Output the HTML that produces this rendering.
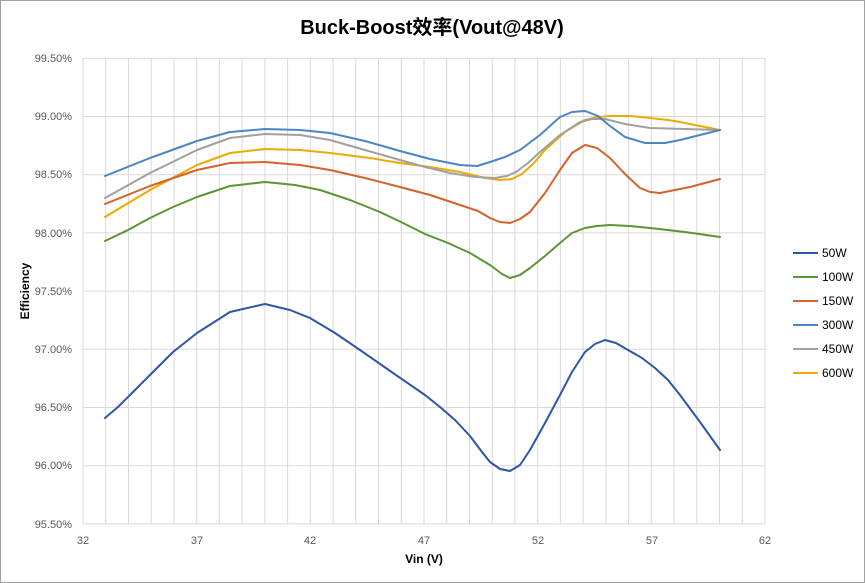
<!DOCTYPE html>
<html><head><meta charset="utf-8"><style>
body{margin:0;background:#fff}
svg{display:block;font-family:"Liberation Sans","Noto Sans CJK SC",sans-serif}
</style></head><body>
<svg width="865" height="583" viewBox="0 0 865 583" xmlns="http://www.w3.org/2000/svg">
<rect x="0.5" y="0.5" width="864" height="582" fill="#fff" stroke="#a0a0a0"/>
<text x="432" y="34" text-anchor="middle" font-size="20" font-weight="bold" fill="#000">Buck-Boost效率(Vout@48V)</text>
<path stroke="#d9d9d9" stroke-width="1" fill="none" d="M83,58V524M105.7,58V524M128.5,58V524M151.2,58V524M173.9,58V524M196.7,58V524M219.4,58V524M242.1,58V524M264.9,58V524M287.6,58V524M310.3,58V524M333.1,58V524M355.8,58V524M378.5,58V524M401.3,58V524M424,58V524M446.7,58V524M469.5,58V524M492.2,58V524M514.9,58V524M537.7,58V524M560.4,58V524M583.1,58V524M605.9,58V524M628.6,58V524M651.3,58V524M674.1,58V524M696.8,58V524M719.5,58V524M742.3,58V524M765,58V524M83,58.3H765M83,116.5H765M83,174.7H765M83,232.9H765M83,291.1H765M83,349.3H765M83,407.5H765M83,465.7H765M83,523.9H765"/>
<g font-size="11" fill="#595959" text-anchor="end">
<text x="72" y="62">99.50%</text><text x="72" y="120">99.00%</text><text x="72" y="178">98.50%</text>
<text x="72" y="237">98.00%</text><text x="72" y="295">97.50%</text><text x="72" y="353">97.00%</text>
<text x="72" y="411">96.50%</text><text x="72" y="469">96.00%</text><text x="72" y="528">95.50%</text>
</g>
<g font-size="11" fill="#595959" text-anchor="middle">
<text x="83" y="544">32</text><text x="197" y="544">37</text><text x="310" y="544">42</text>
<text x="424" y="544">47</text><text x="538" y="544">52</text><text x="652" y="544">57</text><text x="765" y="544">62</text>
</g>
<text x="424" y="563" text-anchor="middle" font-size="12" font-weight="bold">Vin (V)</text>
<text transform="translate(29,291) rotate(-90)" text-anchor="middle" font-size="12" font-weight="bold">Efficiency</text>
<g fill="none" stroke-width="2" stroke-linejoin="round" stroke-linecap="round">
<polyline stroke="#eeaa00" points="105,217 150,190 197,165 230,153 265,149 300,150 330,153 370,158 400,163 430,167 460,172 485,178 500,180 512,179 522,174 534,163 545,150 565,132 585,120 598,117 610,116 630,116 650,118 668,120 680,122 700,126 720,130"/>
<polyline stroke="#a0a0a0" points="105,198 150,173 197,150 230,138 265,134 300,135 330,140 365,150 400,160 425,167 450,173 475,177 495,178 507,176 516,172 528,163 540,152 560,135 580,122 592,119 605,119 625,124 650,128 685,129 720,130"/>
<polyline stroke="#4a86c5" points="105,176 150,158 197,141 230,132 265,129 300,130 330,133 365,141 400,151 430,159 460,165 477,166 490,162 505,157 520,150 540,135 560,117 572,112 585,111 598,116 610,126 625,137 645,143 665,143 680,140 700,135 720,130"/>
<polyline stroke="#d4622a" points="105,204 150,186 197,170 230,163 265,162 300,165 330,170 365,178 400,187 430,195 460,205 478,211 490,218 500,222 510,223 520,219 530,212 545,193 560,170 572,153 585,145 597,148 610,158 625,174 640,188 650,192 660,193 690,187 720,179"/>
<polyline stroke="#5a9632" points="105,241 128,230 150,218 173,207 197,197 230,186 265,182 295,185 320,190 350,200 380,212 403,223 425,234 448,243 470,253 490,265 502,274 510,278 520,275 530,268 545,256 560,243 572,233 585,228 597,226 610,225 630,226 650,228 685,232 720,237"/>
<polyline stroke="#2f55a4" points="105,418 118,407 130,395 150,375 173,352 197,333 230,312 265,304 290,310 310,318 335,333 360,350 393,373 425,395 440,407 455,420 470,436 482,452 490,462 500,469 510,471 520,465 530,450 545,423 560,395 572,372 585,352 595,344 605,340 616,343 628,350 642,358 655,368 668,380 680,395 700,422 720,450"/>
</g>
<g font-size="12" fill="#000">
<line x1="793" y1="253" x2="818" y2="253" stroke="#2f55a4" stroke-width="2"/><text x="822" y="257">50W</text>
<line x1="793" y1="277" x2="818" y2="277" stroke="#5a9632" stroke-width="2"/><text x="822" y="281">100W</text>
<line x1="793" y1="301" x2="818" y2="301" stroke="#d4622a" stroke-width="2"/><text x="822" y="305">150W</text>
<line x1="793" y1="325" x2="818" y2="325" stroke="#4a86c5" stroke-width="2"/><text x="822" y="329">300W</text>
<line x1="793" y1="349" x2="818" y2="349" stroke="#a0a0a0" stroke-width="2"/><text x="822" y="353">450W</text>
<line x1="793" y1="373" x2="818" y2="373" stroke="#eeaa00" stroke-width="2"/><text x="822" y="377">600W</text>
</g>
</svg>
</body></html>
